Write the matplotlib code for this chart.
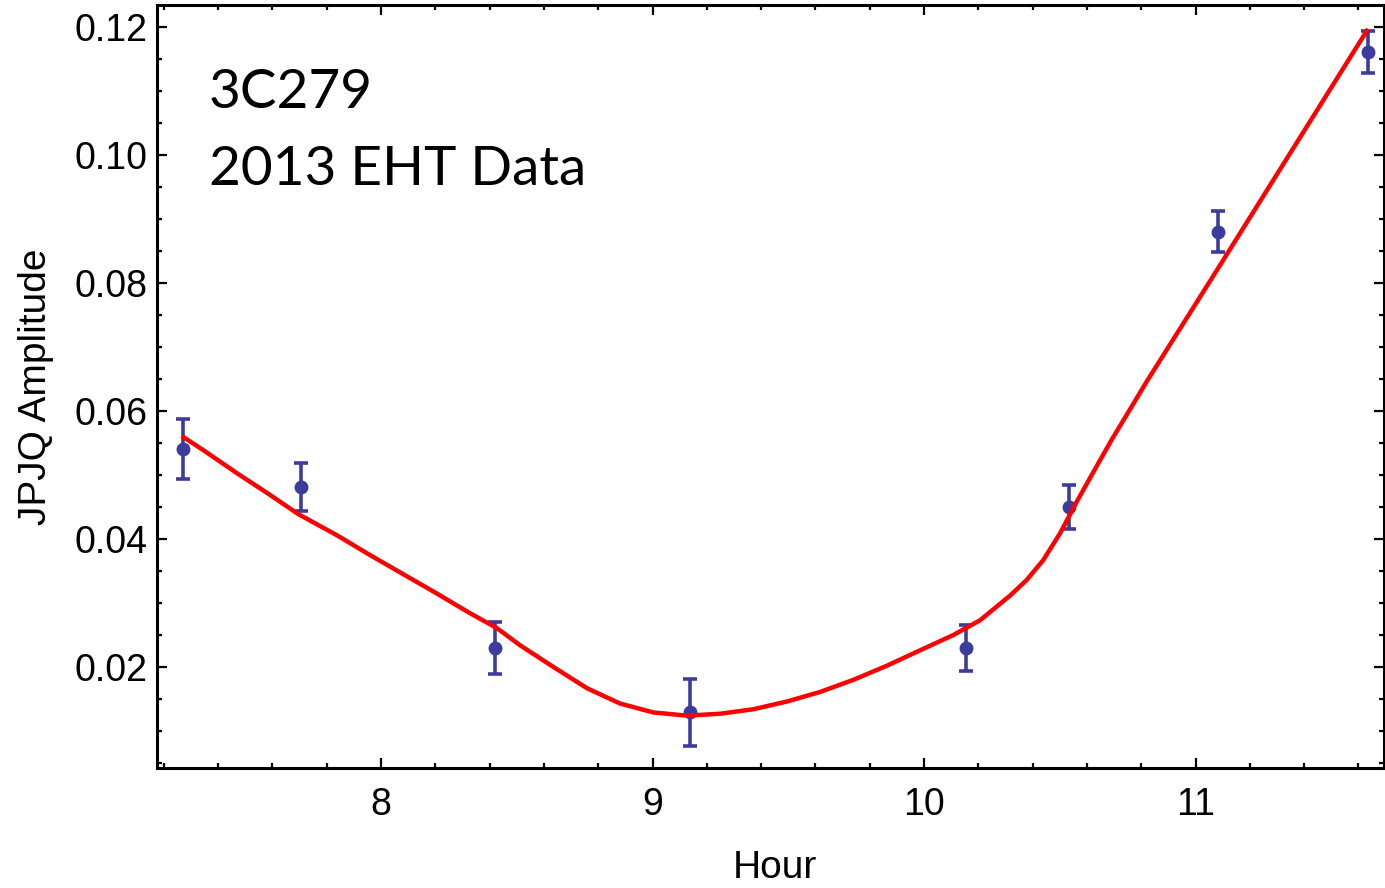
import numpy as np
import matplotlib.pyplot as plt
from matplotlib.ticker import MultipleLocator, FormatStrFormatter

# measured points (hour, JPJQ amplitude, error)
hour = [7.270, 7.705, 8.420, 9.137, 10.154, 10.535, 11.084, 11.636]
amp = [0.0540, 0.0481, 0.0230, 0.0129, 0.0230, 0.0450, 0.0880, 0.1161]
err = [0.0047, 0.0037, 0.0041, 0.0053, 0.0036, 0.0034, 0.0032, 0.0033]

# model curve (red)
fit_hour = [7.266, 7.345, 7.469, 7.591, 7.695, 7.837, 7.959, 8.082, 8.205,
            8.328, 8.426, 8.512, 8.635, 8.758, 8.880, 9.003, 9.126, 9.249,
            9.371, 9.494, 9.617, 9.740, 9.863, 9.985, 10.108, 10.206,
            10.255, 10.318, 10.378, 10.439, 10.501, 10.562, 10.624, 10.691,
            10.820, 11.083, 11.635]
fit_amp = [0.0561, 0.0539, 0.0503, 0.0469, 0.0439, 0.0406, 0.0375, 0.0345,
           0.0315, 0.0284, 0.0261, 0.0234, 0.0200, 0.0167, 0.0143, 0.0129,
           0.0124, 0.0127, 0.0134, 0.0146, 0.0161, 0.0180, 0.0202, 0.0226,
           0.0250, 0.0273, 0.0290, 0.0312, 0.0336, 0.0367, 0.0409, 0.0458,
           0.0505, 0.0555, 0.0646, 0.0823, 0.1197]

fig = plt.figure(figsize=(13.85, 8.88), dpi=100)
ax = fig.add_axes([157/1385, 120/888, 1227/1385, 763/888])

ax.errorbar(hour, amp, yerr=err, fmt='o', color='#3c3c9c', ms=9,
            elinewidth=2.6, capsize=5, capthick=2.6, zorder=2)
ax.plot(fit_hour, fit_amp, color='#ff0000', lw=3.2, zorder=3,
        solid_joinstyle='round', solid_capstyle='butt')

ax.set_xlim(7.175, 11.694)
ax.set_ylim(0.00422, 0.12344)

ax.xaxis.set_major_locator(MultipleLocator(1))
ax.xaxis.set_minor_locator(MultipleLocator(0.2))
ax.yaxis.set_major_locator(MultipleLocator(0.02))
ax.yaxis.set_minor_locator(MultipleLocator(0.005))
ax.yaxis.set_major_formatter(FormatStrFormatter('%.2f'))
ax.xaxis.set_major_formatter(FormatStrFormatter('%d'))

for s in ax.spines.values():
    s.set_linewidth(2.2)
ax.tick_params(which='both', direction='in', top=True, right=True, width=1.6)
ax.tick_params(which='major', length=7)
ax.tick_params(which='minor', length=3.5)
ax.tick_params(axis='x', which='major', pad=14, labelsize=27)
ax.tick_params(axis='y', which='major', pad=7, labelsize=27)
for lab in ax.get_xticklabels() + ax.get_yticklabels():
    lab.set_fontfamily('Liberation Sans')

ax.set_xlabel('Hour', fontsize=28, family='Liberation Sans')
ax.set_ylabel('JPJQ Amplitude', fontsize=28, family='Liberation Sans')
ax.xaxis.set_label_coords(0.504, -0.108)
ax.yaxis.set_label_coords(-0.084, 0.5)

ax.text(0.042, 0.865, '3C279', transform=ax.transAxes, fontsize=39.5,
        family='Lato', va='baseline', ha='left')
ax.text(0.042, 0.764, '2013 EHT Data', transform=ax.transAxes, fontsize=39.5,
        family='Lato', va='baseline', ha='left')

fig.savefig('out.png', dpi=100)
